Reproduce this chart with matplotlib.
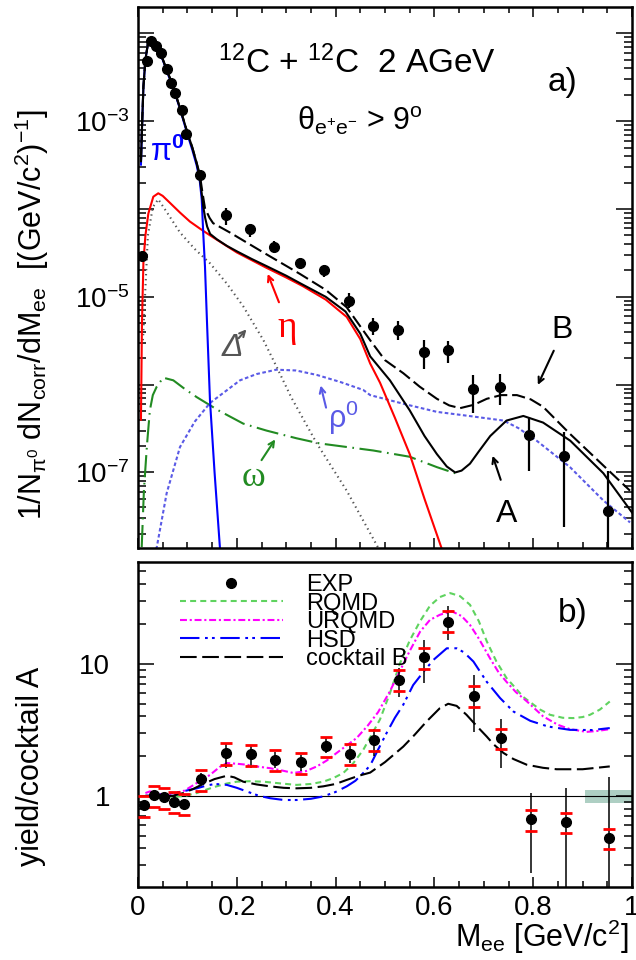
import numpy as np
import matplotlib
matplotlib.use('Agg')
import matplotlib.pyplot as plt
from matplotlib.ticker import (LogLocator, FixedLocator, FuncFormatter,
                               MultipleLocator, NullFormatter)
from matplotlib.lines import Line2D

plt.rcParams['font.family'] = ['Liberation Sans', 'DejaVu Sans']
plt.rcParams['mathtext.fontset'] = 'custom'
plt.rcParams['mathtext.rm'] = 'Liberation Sans'
plt.rcParams['mathtext.it'] = 'Liberation Sans:italic'
plt.rcParams['mathtext.bf'] = 'Liberation Sans:bold'
plt.rcParams['lines.scale_dashes'] = False

# ---------------- panel a) data ----------------
exp_x = [0.0075, 0.0176, 0.0257, 0.0364, 0.0466, 0.058, 0.0668, 0.075, 0.0884, 0.097,
         0.125, 0.1775, 0.227, 0.276, 0.327, 0.377, 0.427, 0.476, 0.527, 0.578,
         0.627, 0.678, 0.733, 0.792, 0.862, 0.952]
exp_y = [2.9e-5, 4.8e-3, 8.1e-3, 7.2e-3, 5.9e-3, 3.9e-3, 2.75e-3, 2.1e-3, 1.35e-3, 7.1e-4,
         2.45e-4, 8.5e-5, 5.9e-5, 3.7e-5, 2.45e-5, 2.0e-5, 8.9e-6, 4.7e-6, 4.2e-6, 2.35e-6,
         2.45e-6, 8.9e-7, 9.3e-7, 2.7e-7, 1.55e-7, 3.6e-8]
exp_lo = [2.9e-5, 4.8e-3, 8.1e-3, 7.2e-3, 5.9e-3, 3.9e-3, 2.75e-3, 2.1e-3, 1.35e-3, 7.1e-4,
          2.2e-4, 6.65e-5, 4.85e-5, 3.24e-5, 2.09e-5, 1.7e-5, 7.5e-6, 3.7e-6, 3.24e-6, 1.5e-6,
          1.76e-6, 4.7e-7, 5.8e-7, 1.04e-7, 2.4e-8, 1.0e-8]
exp_hi = [2.9e-5, 4.8e-3, 8.1e-3, 7.2e-3, 5.9e-3, 3.9e-3, 2.75e-3, 2.1e-3, 1.35e-3, 7.1e-4,
          2.7e-4, 1.04e-4, 6.8e-5, 4.27e-5, 2.8e-5, 2.32e-5, 1.11e-5, 5.75e-6, 5.25e-6, 3.24e-6,
          3.1e-6, 1.29e-6, 1.32e-6, 4.3e-7, 2.9e-7, 1.05e-7]

pi0_x = [0.006, 0.008, 0.011, 0.015, 0.02, 0.025, 0.03, 0.04, 0.05, 0.06, 0.07, 0.085,
         0.1, 0.11, 0.119, 0.125, 0.129, 0.132, 0.1356, 0.138, 0.14, 0.1457, 0.155, 0.166]
pi0_y = [3.2e-4, 7.9e-4, 2.5e-3, 5.0e-3, 7.6e-3, 8.4e-3, 7.9e-3, 6.3e-3, 5.0e-3, 3.5e-3,
         2.5e-3, 1.38e-3, 7.1e-4, 4.7e-4, 3.1e-4, 2.1e-4, 1.29e-4, 5.4e-5, 2.2e-5, 9.3e-6,
         4.6e-6, 6.6e-7, 1.0e-7, 1.35e-8]

eta_x = [0.006, 0.008, 0.011, 0.015, 0.021, 0.031, 0.041, 0.05, 0.065, 0.085, 0.105, 0.125,
         0.146, 0.2, 0.26, 0.3, 0.334, 0.38, 0.4225, 0.45, 0.47, 0.49, 0.52, 0.55, 0.58, 0.615]
eta_y = [4.0e-7, 5.0e-6, 2.5e-5, 5.0e-5, 8.9e-5, 1.38e-4, 1.51e-4, 1.41e-4, 1.17e-4, 9.1e-5,
         7.2e-5, 6.0e-5, 5.0e-5, 3.2e-5, 2.14e-5, 1.66e-5, 1.32e-5, 9.3e-6, 5.9e-6, 3.3e-6,
         1.74e-6, 1.05e-6, 4.2e-7, 1.62e-7, 5.0e-8, 1.35e-8]

delta_x = [0.01, 0.02, 0.03, 0.041, 0.06, 0.085, 0.115, 0.146, 0.18, 0.213, 0.254, 0.281,
           0.31, 0.362, 0.4225, 0.483, 0.49]
delta_y = [3.2e-6, 5.0e-5, 1.05e-4, 1.29e-4, 8.9e-5, 5.4e-5, 3.5e-5, 2.4e-5, 1.41e-5, 7.8e-6,
           3.2e-6, 1.58e-6, 7.2e-7, 2.14e-7, 6.2e-8, 1.5e-8, 1.26e-8]

rho_x = [0.025, 0.038, 0.058, 0.085, 0.115, 0.146, 0.2065, 0.24, 0.28, 0.32, 0.362, 0.41,
         0.456, 0.47, 0.54, 0.605, 0.67, 0.74, 0.77, 0.807, 0.8745, 0.942, 0.996]
rho_y = [1.0e-8, 1.41e-8, 5.8e-8, 1.95e-7, 3.8e-7, 6.2e-7, 1.12e-6, 1.32e-6, 1.48e-6, 1.45e-6,
         1.29e-6, 1.07e-6, 8.7e-7, 7.6e-7, 6.0e-7, 4.9e-7, 4.4e-7, 3.9e-7, 3.2e-7, 2.3e-7,
         1.15e-7, 4.8e-8, 2.7e-8]

omega_x = [0.0075, 0.012, 0.018, 0.024, 0.03, 0.038, 0.051, 0.0715, 0.095, 0.119, 0.1626,
           0.213, 0.26, 0.321, 0.368, 0.4225, 0.476, 0.55, 0.605, 0.642]
omega_y = [1.41e-8, 6.3e-8, 2.0e-7, 5.1e-7, 7.6e-7, 9.5e-7, 1.2e-6, 1.12e-6, 8.9e-7, 7.2e-7,
           5.1e-7, 3.6e-7, 3.0e-7, 2.45e-7, 2.14e-7, 1.95e-7, 1.78e-7, 1.51e-7, 1.15e-7, 9.8e-8]

cockA_x = [0.006, 0.008, 0.011, 0.015, 0.02, 0.025, 0.03, 0.04, 0.05, 0.06, 0.07, 0.085,
           0.1, 0.11, 0.119, 0.125, 0.129, 0.132, 0.136, 0.14, 0.146, 0.16, 0.18, 0.2, 0.23,
           0.26, 0.3, 0.33, 0.38, 0.42, 0.45, 0.47, 0.51, 0.55, 0.58, 0.605, 0.625, 0.642,
           0.655, 0.672, 0.69, 0.713, 0.746, 0.78, 0.82, 0.875, 0.942, 1.0]
cockA_y = [3.5e-4, 8.3e-4, 2.5e-3, 5.0e-3, 7.6e-3, 8.5e-3, 8.1e-3, 6.5e-3, 5.1e-3, 3.6e-3,
           2.6e-3, 1.41e-3, 7.4e-4, 5.0e-4, 3.3e-4, 2.3e-4, 1.5e-4, 1.07e-4, 7.9e-5, 6.3e-5,
           5.2e-5, 4.5e-5, 3.8e-5, 3.3e-5, 2.7e-5, 2.24e-5, 1.74e-5, 1.41e-5, 1.0e-5, 6.8e-6,
           3.8e-6, 2.1e-6, 1.12e-6, 5.1e-7, 2.6e-7, 1.62e-7, 1.17e-7, 1.0e-7, 1.05e-7, 1.26e-7,
           1.74e-7, 2.6e-7, 3.9e-7, 4.4e-7, 3.7e-7, 2.3e-7, 9.8e-8, 3.5e-8]

cockB_x = [0.006, 0.008, 0.011, 0.015, 0.02, 0.025, 0.03, 0.04, 0.05, 0.06, 0.07, 0.085,
           0.1, 0.11, 0.119, 0.125, 0.13, 0.1356, 0.145, 0.152, 0.186, 0.2537, 0.328, 0.38,
           0.4225, 0.47, 0.5, 0.537, 0.57, 0.605, 0.63, 0.652, 0.68, 0.706, 0.735, 0.767,
           0.795, 0.82, 0.8745, 0.942, 0.996]
cockB_y = [3.5e-4, 8.3e-4, 2.5e-3, 5.0e-3, 7.6e-3, 8.5e-3, 8.1e-3, 6.5e-3, 5.1e-3, 3.6e-3,
           2.6e-3, 1.41e-3, 7.4e-4, 5.0e-4, 3.3e-4, 2.5e-4, 1.6e-4, 1.02e-4, 7.9e-5, 6.9e-5,
           5.4e-5, 3.2e-5, 1.82e-5, 1.2e-5, 7.6e-6, 3.2e-6, 1.9e-6, 1.35e-6, 9.5e-7, 6.9e-7,
           5.8e-7, 5.4e-7, 5.9e-7, 6.9e-7, 7.6e-7, 7.6e-7, 6.8e-7, 5.6e-7, 2.75e-7, 1.2e-7,
           6.2e-8]

# ---------------- panel b) data ----------------
rat_x = [0.0121, 0.033, 0.0526, 0.0729, 0.093, 0.1275, 0.178, 0.229, 0.278, 0.329, 0.38,
         0.429, 0.478, 0.529, 0.578, 0.627, 0.68, 0.735, 0.795, 0.866, 0.953]
rat_y = [0.855, 1.018, 0.978, 0.905, 0.87, 1.345, 2.11, 2.06, 1.875, 1.79, 2.39,
         2.09, 2.66, 7.57, 11.2, 20.9, 5.72, 2.74, 0.666, 0.63, 0.483]
rat_stat_lo = [0.855, 1.018, 0.978, 0.905, 0.87, 1.233, 1.62, 1.62, 1.62, 1.555, 2.11,
               1.77, 2.01, 5.65, 7.14, 15.2, 3.07, 1.62, 0.26, 0.15, 0.15]
rat_stat_hi = [0.855, 1.018, 0.978, 0.905, 0.87, 1.486, 2.53, 2.39, 2.16, 2.04, 2.76,
               2.39, 3.22, 9.28, 15.2, 27.2, 8.26, 3.81, 1.048, 1.156, 1.40]
rat_sys_lo = [0.697, 0.83, 0.797, 0.747, 0.718, 1.097, 1.717, 1.687, 1.555, 1.468, 1.985,
              1.717, 2.20, 6.17, 9.12, 17.3, 4.67, 2.26, 0.543, 0.522, 0.395]
rat_sys_hi = [1.005, 1.19, 1.156, 1.078, 1.03, 1.574, 2.51, 2.43, 2.23, 2.11, 2.81,
              2.48, 3.16, 8.90, 13.15, 24.9, 6.73, 3.22, 0.783, 0.747, 0.562]

cockBr_x = [0.015, 0.045, 0.07, 0.092, 0.112, 0.132, 0.155, 0.18, 0.195, 0.213, 0.24, 0.267,
            0.295, 0.321, 0.35, 0.375, 0.4, 0.4225, 0.447, 0.47, 0.5, 0.537, 0.56, 0.584,
            0.611, 0.628, 0.645, 0.665, 0.685, 0.706, 0.72, 0.74, 0.76, 0.787, 0.82, 0.8475,
            0.9, 0.955]
cockBr_y = [1.0, 0.99, 1.0, 1.05, 1.13, 1.23, 1.34, 1.42, 1.38, 1.28, 1.22, 1.18,
            1.15, 1.14, 1.15, 1.18, 1.23, 1.32, 1.42, 1.5, 1.8, 2.36, 2.9, 3.65,
            4.61, 4.98, 4.8, 4.11, 3.4, 2.81, 2.45, 2.11, 1.9, 1.72, 1.63, 1.59,
            1.59, 1.67]

hsd_x = [0.015, 0.045, 0.0715, 0.095, 0.119, 0.14, 0.156, 0.18, 0.2, 0.22, 0.245, 0.267,
         0.295, 0.321, 0.35, 0.375, 0.4, 0.4225, 0.44, 0.456, 0.47, 0.485, 0.503, 0.52,
         0.537, 0.557, 0.578, 0.598, 0.625, 0.645, 0.66, 0.679, 0.706, 0.733, 0.76, 0.794,
         0.83, 0.8745, 0.92, 0.955]
hsd_y = [1.0, 1.02, 1.05, 1.09, 1.14, 1.2, 1.23, 1.21, 1.15, 1.08, 1.0, 0.96,
         0.93, 0.93, 0.95, 0.99, 1.07, 1.18, 1.3, 1.49, 1.7, 2.2, 2.98, 3.9,
         4.9, 6.9, 8.7, 10.7, 13.1, 13.1, 12.2, 10.4, 7.3, 5.5, 4.35, 3.7,
         3.35, 3.16, 3.15, 3.26]

urqmd_x = [0.015, 0.024, 0.045, 0.0715, 0.095, 0.119, 0.1457, 0.165, 0.18, 0.2, 0.22, 0.245,
           0.267, 0.29, 0.3145, 0.34, 0.362, 0.382, 0.402, 0.422, 0.443, 0.465, 0.486, 0.51,
           0.53, 0.55, 0.571, 0.591, 0.611, 0.635, 0.655, 0.672, 0.69, 0.7126, 0.73, 0.746,
           0.765, 0.787, 0.82, 0.85, 0.8745, 0.908, 0.93, 0.955]
urqmd_y = [1.05, 1.08, 1.03, 1.02, 1.1, 1.25, 1.44, 1.65, 1.77, 1.75, 1.72, 1.66,
           1.62, 1.56, 1.49, 1.54, 1.67, 1.85, 2.11, 2.4, 2.75, 3.4, 4.3, 6.2,
           8.8, 12.5, 17.5, 21.5, 23.5, 25.0, 23.0, 19.7, 15.5, 11.0, 8.6, 7.3,
           6.1, 5.2, 4.0, 3.45, 3.2, 3.05, 3.1, 3.2]

rqmd_x = [0.015, 0.045, 0.0715, 0.095, 0.119, 0.14, 0.159, 0.18, 0.2, 0.225, 0.254, 0.29,
          0.321, 0.35, 0.375, 0.395, 0.4156, 0.435, 0.456, 0.475, 0.49, 0.51, 0.53, 0.55,
          0.571, 0.591, 0.611, 0.632, 0.652, 0.672, 0.69, 0.706, 0.725, 0.746, 0.765, 0.78,
          0.814, 0.834, 0.86, 0.881, 0.9, 0.915, 0.935, 0.955]
rqmd_y = [1.0, 0.98, 0.98, 1.0, 1.05, 1.12, 1.18, 1.24, 1.28, 1.29, 1.28, 1.24,
          1.21, 1.23, 1.28, 1.36, 1.49, 1.75, 2.23, 3.0, 3.8, 6.0, 10.0, 15.0,
          21.0, 27.5, 32.0, 34.3, 32.5, 28.0, 21.0, 14.8, 10.5, 7.8, 6.5, 5.6,
          4.5, 4.11, 3.9, 3.88, 3.95, 4.11, 4.5, 5.18]

band_x = [0.905, 1.0]
band_lo = [0.889, 0.889]
band_hi = [1.11, 1.11]

legend_labels = ['EXP', 'RQMD', 'URQMD', 'HSD', 'cocktail B']

# ---------------- styles ----------------
C_RQMD = '#5fd35f'
C_URQMD = '#ff00ff'
C_HSD = '#0000ff'
C_RHO = '#5a5ae6'
C_OMEGA = '#228b22'
C_DELTA = '#555555'

fig = plt.figure(figsize=(6.36, 9.6), dpi=100)
ax1 = fig.add_axes([138/636, 1-548/960, 494/636, 541/960])
ax2 = fig.add_axes([138/636, 1-887/960, 494/636, 325/960])

# ---- top panel
ax1.set_yscale('log')
ax1.set_xlim(0, 1)
ax1.set_ylim(10**-7.86, 10**-1.70)

ax1.plot(omega_x, omega_y, color=C_OMEGA, lw=1.5, dashes=(16, 4, 1.2, 4))
ax1.plot(rho_x, rho_y, color=C_RHO, lw=1.5, dashes=(2.6, 1.8))
ax1.plot(delta_x, delta_y, color=C_DELTA, lw=1.5, dashes=(1.0, 2.6))
ax1.plot(eta_x, eta_y, color='red', lw=1.5)
ax1.plot(pi0_x, pi0_y, color='#0000ff', lw=1.5)
ax1.plot(cockB_x, cockB_y, color='black', lw=1.5, dashes=(9.5, 3.5))
ax1.plot(cockA_x, cockA_y, color='black', lw=1.5)

ey = np.array(exp_y)
ax1.errorbar(exp_x, ey, yerr=[ey - np.array(exp_lo), np.array(exp_hi) - ey],
             fmt='o', color='black', ms=7, elinewidth=1.6, capsize=0, zorder=5)

ax1.xaxis.set_major_locator(MultipleLocator(0.2))
ax1.xaxis.set_minor_locator(MultipleLocator(0.05))
ax1.yaxis.set_major_locator(LogLocator(base=10, numticks=20))
ax1.yaxis.set_minor_locator(LogLocator(base=10, subs=np.arange(2, 10), numticks=20))
ax1.yaxis.set_minor_formatter(NullFormatter())


def odd_decades(v, pos):
    e = int(round(np.log10(v)))
    return r'$10^{%d}$' % e if e % 2 else ''


ax1.yaxis.set_major_formatter(FuncFormatter(odd_decades))
ax1.tick_params(which='both', direction='in', top=True, right=True,
                labelbottom=False, labelsize=20, width=1.1, pad=6)
ax1.tick_params(axis='y', which='major', length=11.5)
ax1.tick_params(axis='y', which='minor', length=5.8)
ax1.tick_params(axis='x', which='major', length=7)
ax1.tick_params(axis='x', which='minor', length=4.5)
for s in ax1.spines.values():
    s.set_linewidth(1.8)

ta = ax1.transAxes
ax1.text(0.443, 0.896, r'$^{12}$C + $^{12}$C  2 AGeV', transform=ta,
         ha='center', va='center', fontsize=24)
ax1.text(0.860, 0.861, 'a)', transform=ta, ha='center', va='center', fontsize=24)
ax1.text(0.449, 0.791, r'$\mathrm{\theta}_{\mathrm{e^{+}e^{-}}}$ > 9$^{\rm o}$',
         transform=ta, ha='center', va='center', fontsize=22)

ax1.text(0.059, 4.4e-4, r'$\mathrm{\pi}^{\mathbf{0}}$', color='#0000ff',
         ha='center', va='center', fontsize=22, fontweight='bold')
ax1.text(0.3016, 4.5e-6, 'η', color='red', ha='center', va='center',
         fontsize=27, family=['Liberation Serif', 'DejaVu Serif'])
ax1.annotate('', xy=(0.2605, 1.95e-5), xytext=(0.2874, 8.1e-6),
             arrowprops=dict(arrowstyle='->', color='red', lw=1.5))
ax1.text(0.192, 2.6e-6, 'Δ', color=C_DELTA, ha='center', va='center',
         fontsize=23, style='italic')
ax1.annotate('', xy=(0.2233, 4.5e-6), xytext=(0.2, 3.2e-6),
             arrowprops=dict(arrowstyle='->', color=C_DELTA, lw=1.5))
ax1.text(0.415, 4.2e-7, r'$\mathrm{\rho}^{0}$', color=C_RHO, ha='center', va='center',
         fontsize=22)
ax1.annotate('', xy=(0.3684, 1.05e-6), xytext=(0.382, 5.1e-7),
             arrowprops=dict(arrowstyle='->', color=C_RHO, lw=1.5))
ax1.text(0.2328, 8.8e-8, 'ω', color=C_OMEGA, ha='center', va='center',
         fontsize=26, family=['Liberation Serif', 'DejaVu Serif'])
ax1.annotate('', xy=(0.2808, 2.53e-7), xytext=(0.247, 1.3e-7),
             arrowprops=dict(arrowstyle='->', color=C_OMEGA, lw=1.5))
ax1.text(0.747, 3.4e-8, 'A', color='black', ha='center', va='center', fontsize=23)
ax1.annotate('', xy=(0.716, 1.66e-7), xytext=(0.736, 7.7e-8),
             arrowprops=dict(arrowstyle='->', color='black', lw=1.5))
ax1.text(0.858, 4.2e-6, 'B', color='black', ha='center', va='center', fontsize=23)
ax1.annotate('', xy=(0.807, 9.3e-7), xytext=(0.844, 2.6e-6),
             arrowprops=dict(arrowstyle='->', color='black', lw=1.5))

# ---- bottom panel
ax2.set_yscale('log')
ax2.set_xlim(0, 1)
ax2.set_ylim(0.204, 59)

ax2.fill_between(band_x, band_lo, band_hi, color='#aecfc3', lw=0, zorder=1)
ax2.axhline(1.0, color='black', lw=0.8, zorder=2)

ax2.plot(rqmd_x, rqmd_y, color=C_RQMD, lw=1.5, dashes=(4.3, 3))
ax2.plot(urqmd_x, urqmd_y, color=C_URQMD, lw=1.5, dashes=(5, 2, 1.5, 2))
ax2.plot(hsd_x, hsd_y, color=C_HSD, lw=1.5, dashes=(14, 4, 2, 3, 2, 4))
ax2.plot(cockBr_x, cockBr_y, color='black', lw=1.5, dashes=(12, 4))

ry = np.array(rat_y)
ax2.errorbar(rat_x, ry, yerr=[ry - np.array(rat_stat_lo), np.array(rat_stat_hi) - ry],
             fmt='none', ecolor='black', elinewidth=1.1, capsize=0, zorder=4)
ax2.errorbar(rat_x, ry, yerr=[ry - np.array(rat_sys_lo), np.array(rat_sys_hi) - ry],
             fmt='none', ecolor='red', elinewidth=0, capsize=4.5, capthick=2, zorder=5)
ax2.plot(rat_x, rat_y, 'o', color='black', ms=7, zorder=6)

ax2.xaxis.set_major_locator(MultipleLocator(0.2))
ax2.xaxis.set_minor_locator(MultipleLocator(0.05))
ax2.xaxis.set_major_formatter(FuncFormatter(lambda v, p: '%g' % round(v, 2)))
ax2.yaxis.set_major_locator(FixedLocator([1, 10]))
ax2.yaxis.set_major_formatter(FuncFormatter(lambda v, p: '%g' % v))
ax2.yaxis.set_minor_locator(LogLocator(base=10, subs=np.arange(2, 10), numticks=20))
ax2.yaxis.set_minor_formatter(NullFormatter())
ax2.tick_params(which='both', direction='in', top=False, right=True,
                labelsize=20, width=1.1)
ax2.tick_params(axis='y', which='major', length=11.5, pad=20)
ax2.tick_params(axis='y', which='minor', length=5.8)
ax2.tick_params(axis='x', which='major', length=7, pad=6)
ax2.tick_params(axis='x', which='minor', length=4.5)
for s in ax2.spines.values():
    s.set_linewidth(1.8)

ax2.text(0.8806, 0.843, 'b)', transform=ax2.transAxes, ha='center', va='center',
         fontsize=24)

handles = [Line2D([], [], ls='none', marker='o', color='black', ms=7),
           Line2D([], [], color=C_RQMD, lw=1.5, dashes=(4.3, 3)),
           Line2D([], [], color=C_URQMD, lw=1.5, dashes=(5, 2, 1.5, 2)),
           Line2D([], [], color=C_HSD, lw=1.5, dashes=(14, 4, 2, 3, 2, 4)),
           Line2D([], [], color='black', lw=1.5, dashes=(12, 4))]
ax2.legend(handles, legend_labels, loc='upper left', bbox_to_anchor=(0.085, 0.963),
           frameon=False, fontsize=17, handlelength=4.35, handletextpad=1.0,
           labelspacing=-0.145, borderpad=0, borderaxespad=0)

# ---- axis titles
fig.text(0.050, 1 - 315/960,
         r'1/N$_{\mathrm{\pi}^{0}}$ dN$_{\rm corr}$/dM$_{\rm ee}$  [(GeV/c$^{2}$)$^{-1}$]',
         rotation=90, ha='center', va='center', fontsize=22)
fig.text(0.048, 1 - 766/960, 'yield/cocktail A', rotation=90, ha='center',
         va='center', fontsize=22)
fig.text(628/636, 1 - 937/960, r'M$_{\rm ee}$ [GeV/c$^{2}$]', ha='right',
         va='center', fontsize=22)

fig.savefig('out.png', dpi=100)
